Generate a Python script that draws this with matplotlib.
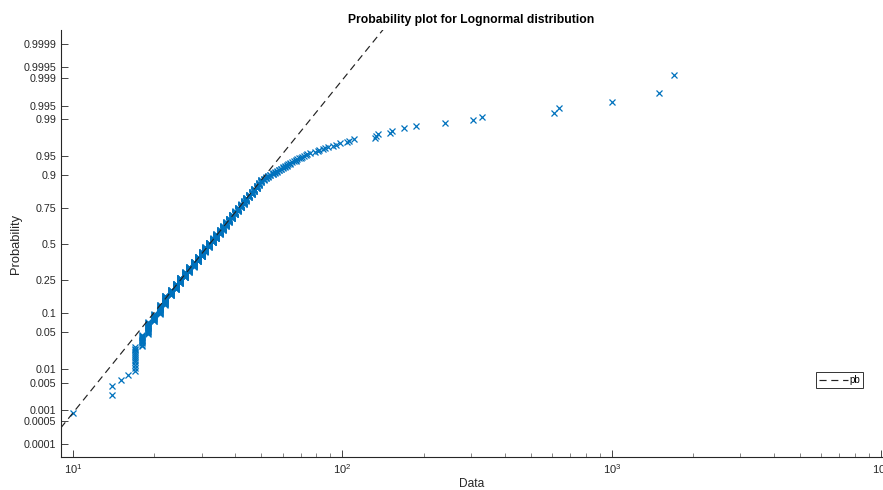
import numpy as np
import matplotlib
matplotlib.use("Agg")
import matplotlib.pyplot as plt
from matplotlib.ticker import LogLocator, NullFormatter
from statistics import NormalDist

body_values = [10, 14, 15, 16, 17, 18, 19, 20, 21, 22, 23, 24, 25, 26, 27, 28, 29, 30,
               31, 32, 33, 34, 35, 36, 37, 38, 39, 40, 41, 42, 43, 44, 45, 46, 47, 48,
               49, 50, 51, 52, 53, 54, 55, 56, 57, 58, 59, 60, 61, 62, 63, 64, 65, 66,
               67, 68, 69, 70, 71, 72, 73, 74]
body_counts = [1, 2, 1, 1, 12, 11, 17, 13, 20, 24, 18, 20, 21, 21, 21, 22, 21, 21,
               21, 20, 19, 19, 18, 17, 16, 15, 15, 13, 13, 12, 11, 10, 9, 9, 8, 8,
               7, 6, 3, 3, 3, 2, 3, 2, 2, 2, 2, 2, 2, 2, 1, 2, 1, 1,
               2, 1, 1, 1, 1, 1, 1, 1]
tail_values = [76, 79, 81, 82, 85, 86, 88, 92, 95, 98, 104, 106, 110, 132, 133, 135,
               150, 153, 169, 187, 241, 304, 331, 608, 635, 1000, 1500, 1700]

# reference line (lognormal fit) parameters
ref_mu = 3.469
ref_sigma = 0.372

prob_ticks = [0.0001, 0.0005, 0.001, 0.005, 0.01, 0.05, 0.1, 0.25, 0.5, 0.75,
              0.9, 0.95, 0.99, 0.995, 0.999, 0.9995, 0.9999]
prob_labels = ["0.0001", "0.0005", "0.001", "0.005", "0.01", "0.05", "0.1", "0.25",
               "0.5", "0.75", "0.9", "0.95", "0.99", "0.995", "0.999", "0.9995", "0.9999"]

# ---- build sample ----
data = np.sort(np.concatenate([np.repeat(body_values, body_counts), np.array(tail_values)]))
n = len(data)
nd = NormalDist()
zpos = np.array([nd.inv_cdf((i - 0.5) / n) for i in range(1, n + 1)])

plt.rcParams['font.family'] = ['Liberation Sans', 'DejaVu Sans']
fig = plt.figure(figsize=(8.83, 4.90), dpi=100)
ax = fig.add_axes([61 / 883, 33 / 490, 821 / 883, 427 / 490])

blue = '#0072BD'
ax.plot(data, zpos, linestyle='none', marker='x', markersize=4.5,
        markeredgewidth=0.9, color=blue, label='_nolegend_')

xl = np.array([9.0, 10000.0])
zl = (np.log(xl) - ref_mu) / ref_sigma
ax.plot(xl, zl, linestyle=(0, (6, 4)), color='#222222', linewidth=0.85, label='pb')

ax.set_xscale('log')
ax.set_xlim(10 ** 0.955, 10 ** 4.003)
ax.set_ylim(-3.96, 3.98)

ax.set_yticks([nd.inv_cdf(p) for p in prob_ticks])
ax.set_yticklabels(prob_labels)
ax.xaxis.set_major_locator(LogLocator(base=10))
ax.xaxis.set_minor_locator(LogLocator(base=10, subs=np.arange(2, 10)))
ax.xaxis.set_minor_formatter(NullFormatter())

for s in ['top', 'right']:
    ax.spines[s].set_visible(False)
for s in ['left', 'bottom']:
    ax.spines[s].set_color('#262626')
    ax.spines[s].set_linewidth(0.8)

ax.tick_params(axis='both', which='major', direction='in', length=5, width=0.6,
               colors='#262626', labelsize=7.7, labelcolor='#262626')
ax.tick_params(axis='x', which='minor', direction='in', length=3, width=0.5, colors='#555555')
ax.tick_params(axis='y', which='minor', left=False)
ax.tick_params(axis='x', which='major', pad=4, labelsize=8)

ax.set_title('Probability plot for Lognormal distribution', fontsize=8.7, fontweight='bold',
             color='black', pad=5)
ax.set_xlabel('Data', fontsize=8.6, color='#262626', labelpad=1)
ax.set_ylabel('Probability', fontsize=9.3, color='#262626', labelpad=1)

leg = ax.legend(loc='upper left', bbox_to_anchor=(816 / 883, 1 - 372 / 490),
                bbox_transform=fig.transFigure, fontsize=7, frameon=True, fancybox=False,
                handlelength=3.0, handletextpad=0.1, borderpad=0.3, borderaxespad=0)
leg.get_frame().set_edgecolor('black')
leg.get_frame().set_linewidth(0.7)

fig.savefig('out.png', dpi=100)
